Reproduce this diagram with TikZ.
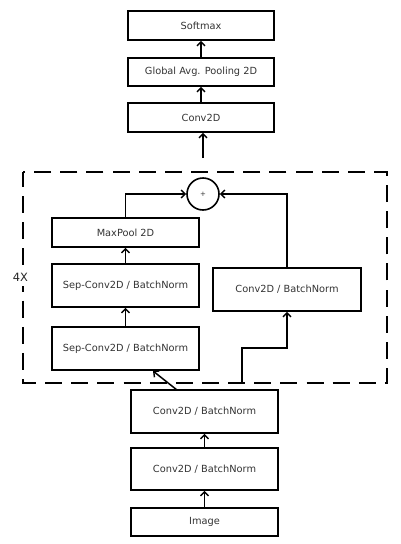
\documentclass[tikz,border=0pt]{standalone}
\usepackage{fontspec}
\setmainfont{DejaVu Sans}
\usetikzlibrary{arrows.meta,calc}
\begin{document}
\begin{tikzpicture}[x=1pt,y=-1pt,
  box/.style={draw=black,line width=1.6pt,rectangle,inner sep=0pt,font=\fontsize{9.8}{11}\selectfont,text=black!80},
  arr/.style={line width=1.5pt,-{Straight Barb[length=4pt,width=8pt,line width=1.4pt]}},
  dashbox/.style={line width=1.5pt,dash pattern=on 17pt off 9.136pt,dash phase=2pt}]
\useasboundingbox (0,0) rectangle (400,544);
\node[box,minimum width=146pt,minimum height=29pt] (softmax) at (201,25.5) {Softmax};
\node[box,minimum width=146pt,minimum height=28pt] (gap) at (201,72) {Global Avg. Pooling 2D};
\node[box,minimum width=146pt,minimum height=29pt] (conv) at (201,117.5) {Conv2D};
\node[box,minimum width=147pt,minimum height=29pt] (maxpool) at (125.5,232.5) {MaxPool 2D};
\node[box,minimum width=147pt,minimum height=43pt] (sep1) at (125.5,285.5) {Sep-Conv2D / BatchNorm};
\node[box,minimum width=147pt,minimum height=43pt] (sep2) at (125.5,348.5) {Sep-Conv2D / BatchNorm};
\node[box,minimum width=148pt,minimum height=43pt] (right) at (287,289.5) {Conv2D / BatchNorm};
\node[box,minimum width=147pt,minimum height=43pt] (cbna) at (204.5,411.5) {Conv2D / BatchNorm};
\node[box,minimum width=147pt,minimum height=42pt] (cbnb) at (204.5,469) {Conv2D / BatchNorm};
\node[box,minimum width=147pt,minimum height=28pt] (image) at (204.5,522) {Image};
\node[circle,draw=black,line width=1.6pt,minimum size=32pt,inner sep=0pt,font=\fontsize{7}{8}\selectfont,text=black!80] (plus) at (203,194) {+};
\draw[dashbox] (23,172) rectangle (387,383);
\node[fill=white,inner xsep=1pt,inner ysep=5pt,font=\fontsize{11.4}{13}\selectfont,text=black!85] (four) at (20.5,277) {4X};
\coordinate (cin) at (203,158);
\coordinate (split) at (242,383);
\coordinate (d1) at (177,390);
\coordinate (d2) at (153,371);
% arrows
\draw[arr] (image.north) -- (cbnb.south);
\draw[arr] (cbnb.north) -- (cbna.south);
\draw[arr] (d1) -- (d2);
\draw[arr] (split) -- ++(0,-35) -| (right.south);
\draw[arr] (sep2.north) -- (sep1.south);
\draw[arr] (sep1.north) -- (maxpool.south);
\draw[arr] (maxpool.north) |- (plus.west);
\draw[arr] (right.north) |- (plus.east);
\draw[arr] (cin) -- (cin |- conv.south);
\draw[arr] (conv.north) -- (gap.south);
\draw[arr] (gap.north) -- (softmax.south);
\end{tikzpicture}
\end{document}
